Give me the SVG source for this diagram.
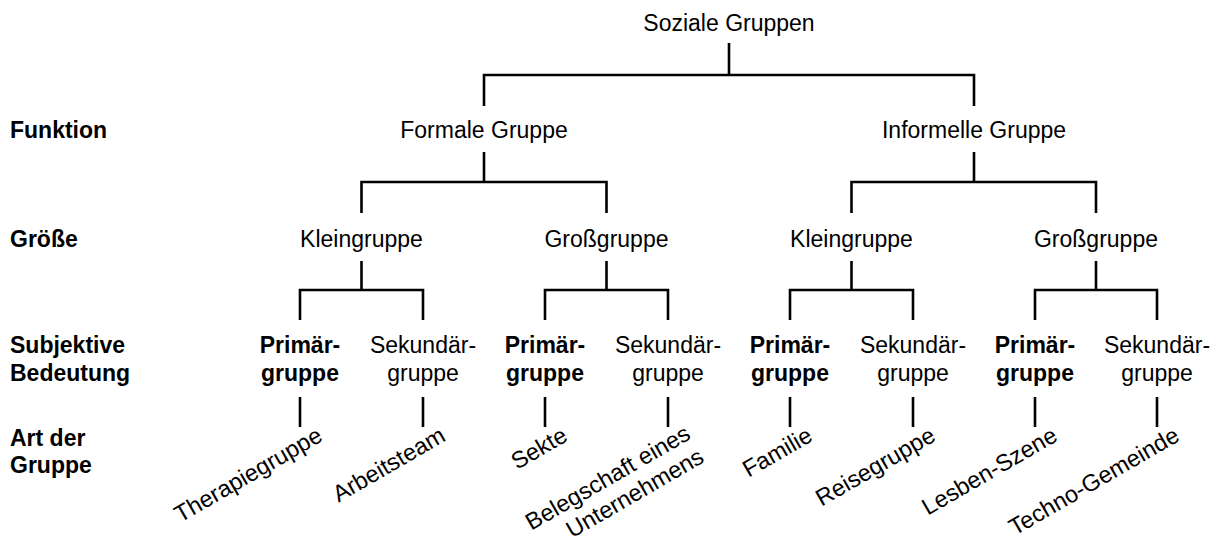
<svg xmlns="http://www.w3.org/2000/svg" width="1220" height="543" viewBox="0 0 1220 543">
  <style>
    text { font-family: "Liberation Sans", Arial, sans-serif; font-size: 23px; fill: #000; }
    .b { font-weight: bold; }
    .c { text-anchor: middle; }
    .e { text-anchor: end; font-size: 23.5px; }
    .lines path { fill: none; stroke: #000; stroke-width: 2.6; }
  </style>
  <rect width="1220" height="543" fill="#fff"/>

  <!-- row labels -->
  <g id="row-labels">
    <text class="b" x="10" y="138">Funktion</text>
    <text class="b" x="10" y="247">Größe</text>
    <text class="b" x="10" y="353">Subjektive</text>
    <text class="b" x="10" y="381">Bedeutung</text>
    <text class="b" x="10" y="446">Art der</text>
    <text class="b" x="10" y="473">Gruppe</text>
  </g>

  <!-- connectors -->
  <g id="connectors" class="lines">
    <path d="M729,43 V75"/>
    <path d="M484,106 V75 H974 V106"/>
    <path d="M484,152 V182"/>
    <path d="M974,152 V182"/>
    <path d="M361.5,213 V182 H606.5 V213"/>
    <path d="M851.5,213 V182 H1096 V213"/>
    <path d="M361.5,261 V290"/>
    <path d="M606.5,261 V290"/>
    <path d="M851.5,261 V290"/>
    <path d="M1096,261 V290"/>
    <path d="M300,320 V290 H423 V320"/>
    <path d="M545,320 V290 H668 V320"/>
    <path d="M790,320 V290 H913 V320"/>
    <path d="M1035,320 V290 H1157 V320"/>
    <path d="M300,397 V427"/>
    <path d="M423,397 V427"/>
    <path d="M545,397 V427"/>
    <path d="M668,397 V427"/>
    <path d="M790,397 V427"/>
    <path d="M913,397 V427"/>
    <path d="M1035,397 V427"/>
    <path d="M1157,397 V427"/>
  </g>

  <!-- root -->
  <g id="soziale-gruppen"><text class="c" x="729" y="31">Soziale Gruppen</text></g>

  <!-- function -->
  <g id="formale-gruppe"><text class="c" x="484" y="138">Formale Gruppe</text></g>
  <g id="informelle-gruppe"><text class="c" x="974" y="138">Informelle Gruppe</text></g>

  <!-- size -->
  <g id="formal-klein"><text class="c" x="361.5" y="247">Kleingruppe</text></g>
  <g id="formal-gross"><text class="c" x="606.5" y="247">Großgruppe</text></g>
  <g id="informell-klein"><text class="c" x="851.5" y="247">Kleingruppe</text></g>
  <g id="informell-gross"><text class="c" x="1096" y="247">Großgruppe</text></g>

  <!-- subjective meaning -->
  <g id="fk-primaer"><text class="c b" x="300" y="353">Primär-</text><text class="c b" x="300" y="381">gruppe</text></g>
  <g id="fk-sekundaer"><text class="c" x="423" y="353">Sekundär-</text><text class="c" x="423" y="381">gruppe</text></g>
  <g id="fg-primaer"><text class="c b" x="545" y="353">Primär-</text><text class="c b" x="545" y="381">gruppe</text></g>
  <g id="fg-sekundaer"><text class="c" x="668" y="353">Sekundär-</text><text class="c" x="668" y="381">gruppe</text></g>
  <g id="ik-primaer"><text class="c b" x="790" y="353">Primär-</text><text class="c b" x="790" y="381">gruppe</text></g>
  <g id="ik-sekundaer"><text class="c" x="913" y="353">Sekundär-</text><text class="c" x="913" y="381">gruppe</text></g>
  <g id="ig-primaer"><text class="c b" x="1035" y="353">Primär-</text><text class="c b" x="1035" y="381">gruppe</text></g>
  <g id="ig-sekundaer"><text class="c" x="1157" y="353">Sekundär-</text><text class="c" x="1157" y="381">gruppe</text></g>

  <!-- examples, slanted -->
  <g id="therapiegruppe" transform="translate(324,440) rotate(-30)"><text class="e">Therapiegruppe</text></g>
  <g id="arbeitsteam" transform="translate(447,440) rotate(-30)"><text class="e">Arbeitsteam</text></g>
  <g id="sekte" transform="translate(569,440) rotate(-30)"><text class="e">Sekte</text></g>
  <g id="belegschaft" transform="translate(692,438) rotate(-30)"><text class="e">Belegschaft eines</text><text class="e" y="27">Unternehmens</text></g>
  <g id="familie" transform="translate(814,440) rotate(-30)"><text class="e">Familie</text></g>
  <g id="reisegruppe" transform="translate(937,440) rotate(-30)"><text class="e">Reisegruppe</text></g>
  <g id="lesben-szene" transform="translate(1059,440) rotate(-30)"><text class="e">Lesben-Szene</text></g>
  <g id="techno-gemeinde" transform="translate(1181,440) rotate(-30)"><text class="e">Techno-Gemeinde</text></g>
</svg>
